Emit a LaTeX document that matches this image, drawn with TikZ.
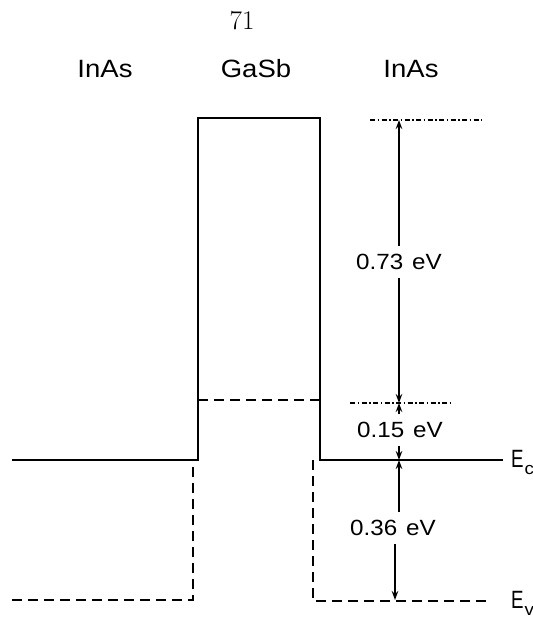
\documentclass[tikz,border=0pt]{standalone}
\usepackage{fontspec}
\newfontfamily\plotfont[FakeStretch=1.1]{Liberation Sans}
\usetikzlibrary{arrows.meta}
\tikzset{
  band/.style={line width=2pt},
  vband/.style={line width=2pt, dash pattern=on 10pt off 6pt},
  refline/.style={line width=1.6pt, dash pattern=on 5pt off 2.5pt on 1.5pt off 2.5pt},
  dim/.style={line width=1.6pt, -{Stealth[length=9pt,width=6.5pt]}},
  layer/.style={font=\plotfont\fontsize{25}{28}\selectfont, inner sep=0pt},
  gap/.style={font=\plotfont\fontsize{22}{24}\selectfont, inner xsep=0pt, inner ysep=8pt},
  level/.style={font=\plotfont\fontsize{25}{28}\selectfont, inner sep=0pt, anchor=west},
}
\newcommand{\bandlabel}[1]{\scalebox{0.68}[1]{E}\kern1pt\raisebox{-7pt}{\fontsize{17}{17}\selectfont #1}}
\begin{document}
\begin{tikzpicture}[x=1pt,y=-1pt]
\useasboundingbox (0,0) rectangle (533,619);

% page number and layer names
\node[font=\fontsize{27}{29}\selectfont, inner sep=0pt] (page) at (242,21) {71};
\node[layer] (inas1) at (105,69) {InAs};
\node[layer] (gasb)  at (256,69) {GaSb};
\node[layer] (inas2) at (411,69) {InAs};

% band edge corners
\coordinate (ecL)  at (12,460);
\coordinate (bl)   at (198,460);
\coordinate (tl)   at (198,118);
\coordinate (tr)   at (320,118);
\coordinate (br)   at (320,460);
\coordinate (ecR)  at (503,460);
\coordinate (vgL)  at (198,400);
\coordinate (vgR)  at (320,400);
\coordinate (evL)  at (12,600);
\coordinate (evLc) at (193,600);
\coordinate (evLt) at (193,460);
\coordinate (evRt) at (313,460);
\coordinate (evRc) at (313,601);
\coordinate (evR)  at (490,601);

% conduction band: InAs | GaSb barrier | InAs
\draw[band] (ecL) -- (bl) -- (tl) -- (tr) -- (br) -- (ecR);
% valence band
\draw[vband] (vgL) -- (vgR);
\draw[vband] (evL) -- (evLc) -- (evLt);
\draw[vband] (evRt) -- (evRc) -- (evR);

% reference levels on the right
\coordinate (r1a) at (370,120);
\coordinate (r1b) at (482,120);
\coordinate (r2a) at (350,403);
\coordinate (r2b) at (452,403);
\draw[refline] (r1a) -- (r1b);
\draw[refline] (r2a) -- (r2b);

% energy gaps
\coordinate (m1) at (399,120);
\coordinate (m2) at (399,403);
\coordinate (m3) at (399,460);
\coordinate (m4) at (395,600);
\node[gap] (g073) at (399,262) {0.73\kern9pt eV};
\node[gap] (g015) at (400,430) {0.15\kern9pt eV};
\node[gap] (g036) at (393,528) {0.36\kern9pt eV};

\draw[dim] (g073.north) -- (m1);
\draw[dim] (g073.south) -- (m2);
\draw[dim] (g015.north -| m2) -- (m2);
\draw[dim] (g015.south -| m3) -- (m3);
\draw[dim] (g036.north -| m3) -- (m3);
\draw[dim] (g036.south -| m4) -- (m4);

% band edge names
\node[level] (ec) at (511,462) {\bandlabel{c}};
\node[level] (ev) at (511,603) {\bandlabel{v}};
\end{tikzpicture}
\end{document}
